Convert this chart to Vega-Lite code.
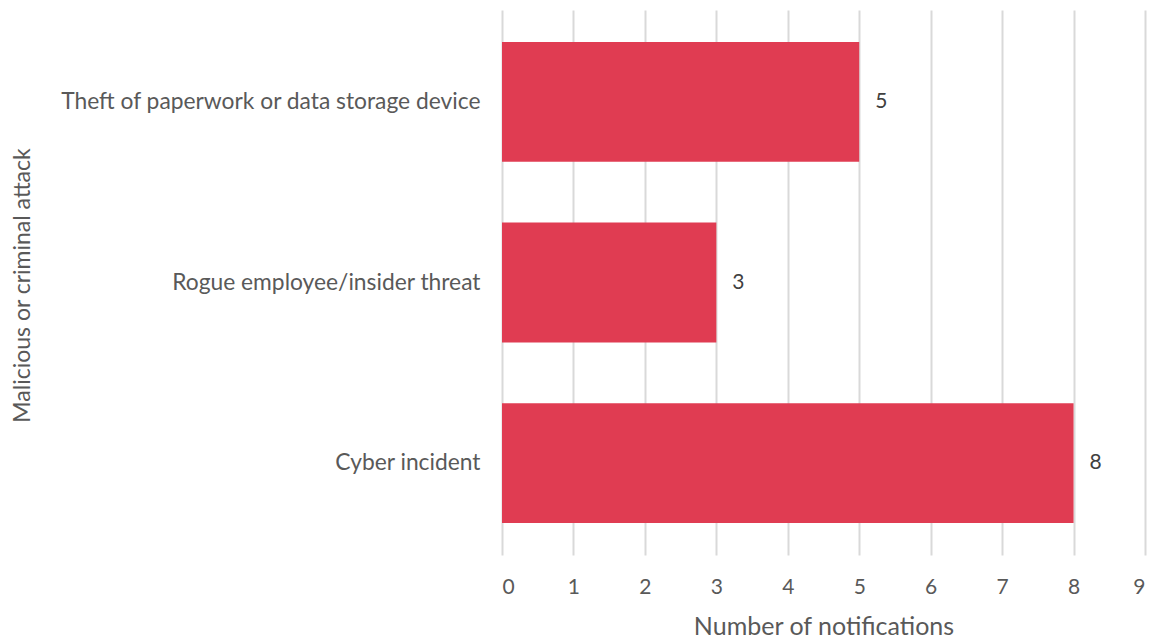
{
  "$schema": "https://vega.github.io/schema/vega-lite/v6.json",
  "width": 643,
  "height": 545,
  "autosize": {"type": "none"},
  "padding": {"left": 502, "top": 10, "right": 6, "bottom": 86},
  "background": "white",
  "data": {"values": [
    {"category": "Theft of paperwork or data storage device", "count": 5},
    {"category": "Rogue employee/insider threat", "count": 3},
    {"category": "Cyber incident", "count": 8}
  ]},
  "config": {
    "view": {"stroke": null},
    "font": "Lato",
    "axis": {"labelFont": "Lato", "titleFont": "Lato", "labelColor": "#595959", "titleColor": "#595959", "titleFontWeight": "normal"}
  },
  "encoding": {
    "y": {
      "field": "category", "type": "nominal", "sort": null,
      "scale": {"paddingInner": 0.337, "paddingOuter": 0.177},
      "axis": {
        "title": "Malicious or criminal attack",
        "ticks": false, "domain": false, "grid": false,
        "labelFontSize": 22.8, "labelPadding": 22, "labelLimit": 490,
        "titleFontSize": 23, "titleX": -480, "titleY": 275, "titleAngle": -90, "titleBaseline": "middle", "titleAlign": "center"
      }
    },
    "x": {
      "field": "count", "type": "quantitative",
      "scale": {"domain": [0, 9], "nice": false},
      "axis": {
        "title": "Number of notifications",
        "values": [0,1,2,3,4,5,6,7,8,9],
        "labelOverlap": false,
        "ticks": false, "domain": false,
        "grid": true, "gridColor": "#d9d9d9", "gridWidth": 2,
        "labelFontSize": 21, "labelPadding": 21,
        "titleFontSize": 25, "titlePadding": 17
      }
    }
  },
  "layer": [
    {"mark": {"type": "bar", "color": "#e03c52"}},
    {"mark": {"type": "text", "align": "left", "dx": 16, "fontSize": 21, "color": "#404040", "font": "Lato"},
     "encoding": {"text": {"field": "count", "type": "quantitative"}}}
  ]
}
